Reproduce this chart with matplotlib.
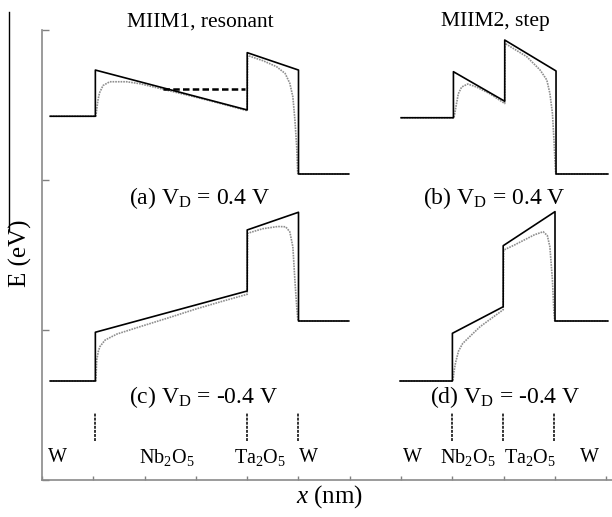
import matplotlib
matplotlib.use("Agg")
import matplotlib.pyplot as plt
from matplotlib.lines import Line2D

plt.rcParams['font.family'] = ['Liberation Serif', 'DejaVu Serif']
plt.rcParams['mathtext.fontset'] = 'custom'
plt.rcParams['mathtext.rm'] = 'Liberation Serif'
plt.rcParams['mathtext.it'] = 'Liberation Serif:italic'

# band edges: ideal (solid) and image-force corrected (dotted)
# (a) MIIM1, VD = 0.4 V
xa = [0.16, 1.04, 1.04, 4.0, 4.0, 5.0, 5.0, 5.98]
Ea = [2.425, 2.425, 2.733, 2.467, 2.849, 2.733, 2.04, 2.04]
xa_if = [0.16, 1.05, 1.066, 1.09, 1.12, 1.19, 1.32, 1.65, 1.91, 2.36, 3.0, 3.5, 4.0,
         4.01, 4.31, 4.575, 4.74, 4.83, 4.89, 4.93, 4.965, 4.985, 5.0, 5.98]
Ea_if = [2.425, 2.425, 2.47, 2.53, 2.58, 2.63, 2.655, 2.655, 2.642, 2.605, 2.552, 2.508, 2.462,
         2.83, 2.795, 2.755, 2.71, 2.645, 2.555, 2.4, 2.22, 2.045, 2.04, 2.04]
# resonant level
x_res = [2.36, 3.96]
E_res = [2.61, 2.61]

# (b) MIIM2, VD = 0.4 V
xb = [7.0, 8.02, 8.02, 9.02, 9.02, 10.02, 10.02, 11.03]
Eb = [2.415, 2.415, 2.722, 2.525, 2.933, 2.727, 2.04, 2.04]
xb_if = [7.0, 8.03, 8.05, 8.07, 8.115, 8.18, 8.3, 8.47, 8.73, 9.02,
         9.025, 9.45, 9.71, 9.84, 9.9, 9.95, 9.98, 10.005, 10.015, 11.03]
Eb_if = [2.415, 2.415, 2.45, 2.49, 2.575, 2.62, 2.64, 2.62, 2.575, 2.51,
         2.911, 2.822, 2.733, 2.667, 2.578, 2.444, 2.267, 2.089, 2.04, 2.04]

# (c) MIIM1, VD = -0.4 V
xc = [0.16, 1.04, 1.04, 4.0, 4.0, 5.0, 5.0, 5.98]
Ec = [0.66, 0.66, 0.985, 1.26, 1.667, 1.785, 1.06, 1.06]
xc_if = [0.16, 1.05, 1.066, 1.1, 1.13, 1.23, 1.46, 1.91, 2.5, 3.0, 3.5, 4.0,
         4.01, 4.3, 4.6, 4.75, 4.83, 4.89, 4.93, 4.965, 4.99, 5.98]
Ec_if = [0.66, 0.66, 0.8, 0.86, 0.89, 0.933, 0.973, 1.022, 1.085, 1.14, 1.19, 1.238,
         1.645, 1.675, 1.69, 1.688, 1.655, 1.555, 1.33, 1.155, 1.06, 1.06]

# (d) MIIM2, VD = -0.4 V
xd = [6.98, 8.0, 8.0, 8.99, 8.99, 10.0, 10.0, 11.03]
Ed = [0.66, 0.66, 0.978, 1.155, 1.562, 1.789, 1.06, 1.06]
xd_if = [6.98, 8.01, 8.03, 8.06, 8.12, 8.2, 8.35, 8.54, 8.75, 8.99,
         9.0, 9.2, 9.4, 9.6, 9.77, 9.85, 9.9, 9.95, 9.98, 9.995, 11.03]
Ed_if = [0.66, 0.66, 0.72, 0.78, 0.86, 0.91, 0.96, 1.022, 1.075, 1.135,
         1.533, 1.565, 1.6, 1.635, 1.655, 1.63, 1.555, 1.333, 1.11, 1.06, 1.06]

# interface positions for the layer markers
iface_1 = [1.03, 4.0, 4.99]
iface_2 = [8.0, 8.98, 9.99]

fig = plt.figure(figsize=(6.12, 5.17), dpi=100)
ax = fig.add_axes([42/612, 37/517, 570/612, 450/517])

for x, E, xi, Ei in [(xa, Ea, xa_if, Ea_if), (xb, Eb, xb_if, Eb_if),
                     (xc, Ec, xc_if, Ec_if), (xd, Ed, xd_if, Ed_if)]:
    ax.plot(xi, Ei, color='#8f8f8f', lw=1.2, ls=(0, (1, 0.6)))
    ax.plot(x, E, color='black', lw=1.2)

ax.plot(x_res, E_res, color='black', lw=1.8, ls=(0, (2.6, 1.3)))

ax.vlines(iface_1 + iface_2, 0.26, 0.45, color='#333333', lw=1.4, linestyles=(0, (1.5, 0.6)))

fs = 17
ax.text(3.08, 3.055, 'MIIM1, resonant', ha='center', va='center', fontsize=15.5)
ax.text(8.83, 3.055, 'MIIM2, step', ha='center', va='center', fontsize=15.5)
ax.text(3.08, 1.88, r'(a) V$_\mathregular{D}$ = 0.4 V', ha='center', va='center', fontsize=fs)
ax.text(8.81, 1.88, r'(b) V$_\mathregular{D}$ = 0.4 V', ha='center', va='center', fontsize=fs)
ax.text(3.14, 0.553, r'(c) V$_\mathregular{D}$ = -0.4 V', ha='center', va='center', fontsize=fs)
ax.text(9.03, 0.553, r'(d) V$_\mathregular{D}$ = -0.4 V', ha='center', va='center', fontsize=fs)

layer_labels = [(0.31, 'W'), (2.44, r'Nb$_\mathregular{2}$O$_\mathregular{5}$'),
                (4.25, r'Ta$_\mathregular{2}$O$_\mathregular{5}$'), (5.19, 'W'),
                (7.23, 'W'), (8.3, r'Nb$_\mathregular{2}$O$_\mathregular{5}$'),
                (9.51, r'Ta$_\mathregular{2}$O$_\mathregular{5}$'), (10.68, 'W')]
for xl, s in layer_labels:
    ax.text(xl, 0.147, s, ha='center', va='center', fontsize=14.5)

ax.set_xlim(0, 570/51.3)
ax.set_ylim(0, 3)
ax.set_xticks(range(12))
ax.set_yticks([0, 1, 2, 3])
ax.set_xticklabels([])
ax.set_yticklabels([])
ax.tick_params(axis='both', direction='in', color='#808080', width=1.0)
ax.tick_params(axis='x', length=3)
ax.tick_params(axis='y', length=5)
for side in ['top', 'right']:
    ax.spines[side].set_visible(False)
for side in ['left', 'bottom']:
    ax.spines[side].set_color('#8a8a8a')
    ax.spines[side].set_linewidth(1.2)

fig.text(330/612, 1 - 497/517, '$x$ (nm)', ha='center', va='center', fontsize=18)
fig.text(20/612, 1 - 253/517, 'E (eV)', ha='center', va='center', rotation=90, fontsize=18)
fig.add_artist(Line2D([9/612, 9/612], [1 - 12/517, 1 - 230/517], color='black', lw=1.0))

fig.savefig('out.png', dpi=100)
